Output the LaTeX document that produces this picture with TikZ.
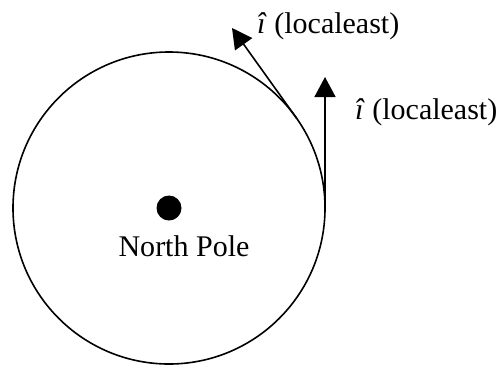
\documentclass[tikz,border=0pt]{standalone}
\usepackage{fontspec}
\setmainfont{Liberation Serif}
\usetikzlibrary{arrows.meta}
\begin{document}
\begin{tikzpicture}[x=1bp,y=-1bp,
  vec/.style={line width=1.6bp,-{Triangle[length=20bp,width=21bp]}},
  lbl/.style={inner sep=0pt,anchor=base west,font=\fontsize{30bp}{36bp}\selectfont}]
\useasboundingbox (0,0) rectangle (503,367);
\node[circle,draw,line width=1.6bp,minimum size=312bp,inner sep=0pt,outer sep=0pt] (earth) at (169,208) {};
\node[circle,fill,minimum size=25bp,inner sep=0pt] (pole) at (169,208) {};
\node[inner sep=0pt,anchor=base,font=\fontsize{30bp}{36bp}\selectfont] (np) at (184,256) {North Pole};
\coordinate (tipA) at (232,28);
\coordinate (tipB) at (325,77);
\draw[vec] (earth.35) -- (tipA);
\draw[vec] (earth.east) -- (tipB);
\node[lbl] (labA) at (257,33) {\textit{î} (localeast)};
\node[lbl] (labB) at (355,119) {\textit{î} (localeast)};
\end{tikzpicture}
\end{document}
